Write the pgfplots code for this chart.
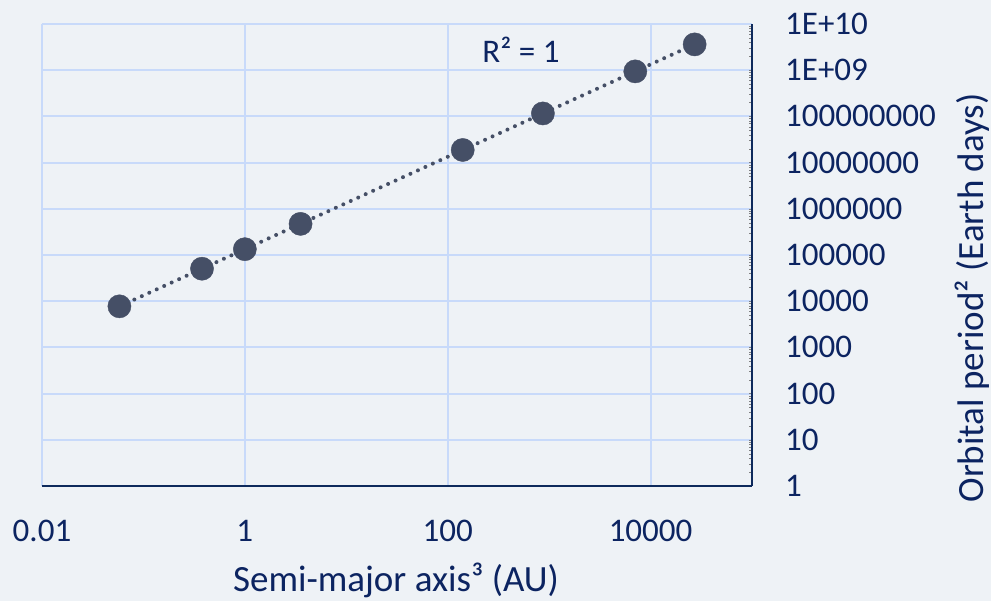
\documentclass[border=0pt]{standalone}
\usepackage{pgfplots}
\pgfplotsset{compat=1.18}
\usepackage{fontspec}
\setmainfont{Carlito}
\usetikzlibrary{backgrounds}
\definecolor{bgc}{HTML}{EEF2F6}
\definecolor{gridc}{HTML}{C8DAFA}
\definecolor{navy}{HTML}{0C2461}
\definecolor{axisc}{HTML}{0E2A5C}
\definecolor{mark}{HTML}{454F66}
\begin{document}
\begin{tikzpicture}
\begin{axis}[
  name=ax,
  scale only axis,
  width=710pt, height=462pt,
  xmode=log, ymode=log,
  xmin=0.01, xmax=1e5,
  ymin=1, ymax=1e10,
  axis x line*=bottom,
  axis y line*=right,
  axis line style={-, draw=axisc, line width=2pt},
  xtick={0.01,1,100,10000},
  xticklabels={0.01,1,100,10000},
  ytick={1,10,100,1000,10000,100000,1000000,10000000,100000000,1000000000,10000000000},
  yticklabels={1,10,100,1000,10000,100000,1000000,10000000,100000000,1E+09,1E+10},
  minor xtick={}, minor ytick={},
  major tick length=0pt,
  xmajorgrids, ymajorgrids,
  grid style={draw=gridc, line width=2pt},
  /pgf/number format/assume math mode=true,
  ticklabel style={font=\fontsize{33}{40}\selectfont, text=navy, inner sep=0pt},
  xticklabel style={anchor=base, yshift=-56pt},
  yticklabel style={anchor=west, xshift=33pt},
  xlabel={Semi-major axis³ (AU)},
  ylabel={Orbital period² (Earth days)},
  label style={font=\fontsize{37}{44}\selectfont, text=navy, inner sep=0pt},
  xlabel style={at={(axis description cs:0.4986,-0.2294)}, anchor=base},
  ylabel style={at={(axis description cs:1.31,0.407)}, anchor=center, rotate=0},
  clip=false,
]
% trendline (power fit)
\addplot[mark=none, draw=mark, line width=4pt, line cap=round, dash pattern=on 0pt off 8.2pt]
  coordinates {(0.058,7740) (27190,3.63e9)};
% planets
\addplot[only marks, mark=*, mark size=11.6pt, mark options={fill=mark, draw=mark, line width=0.4pt}]
  coordinates {
    (0.058,7744)
    (0.378,50490)
    (1,133407)
    (3.54,471969)
    (140.6,1.877e7)
    (868,1.158e8)
    (7067,9.42e8)
    (27190,3.62e9)
  };
\node[anchor=base, text=navy, font=\fontsize{33}{40}\selectfont, inner sep=0pt]
  at (rel axis cs:0.6746,0.9156) {R² = 1};
\end{axis}
\begin{scope}[on background layer]
\fill[bgc] ([shift={(-42pt,-115pt)}]ax.south west) rectangle ([shift={(239pt,24pt)}]ax.north east);
\end{scope}
\end{tikzpicture}
\end{document}
